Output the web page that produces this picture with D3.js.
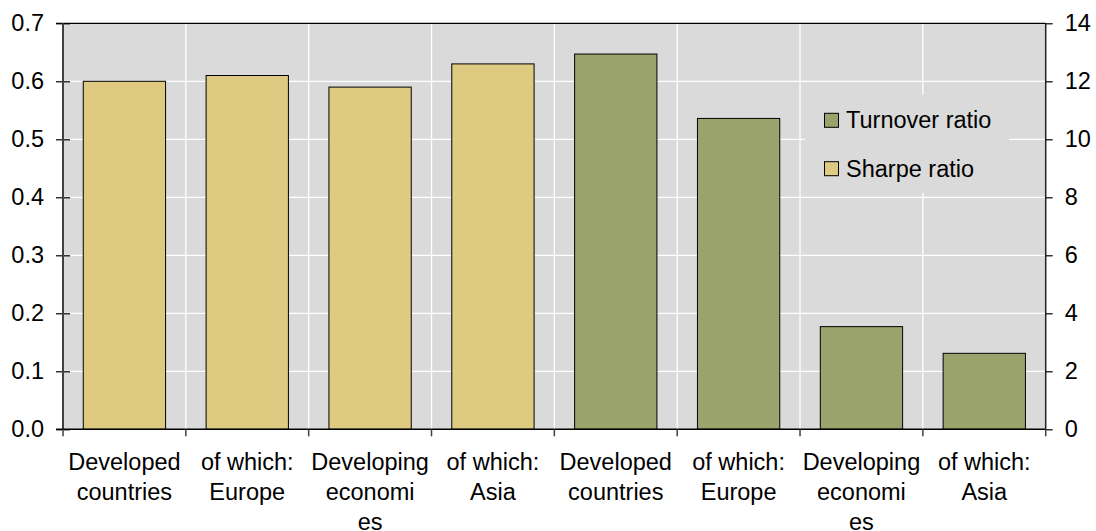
<!DOCTYPE html>
<html>
<head>
<meta charset="utf-8">
<script src="https://cdn.jsdelivr.net/npm/d3@7"></script>
<style>
  html, body { margin: 0; padding: 0; background: #ffffff; }
  svg { display: block; font-family: "Liberation Sans", Arial, sans-serif; }
</style>
</head>
<body>
<svg id="chart" width="1096" height="531"></svg>
<script>
// ---- data ----
const categories = [
  "Developed countries", "of which: Europe", "Developing economies", "of which: Asia",
  "Developed countries", "of which: Europe", "Developing economies", "of which: Asia"
];
const categoryLines = [
  ["Developed", "countries"], ["of which:", "Europe"], ["Developing", "economi", "es"], ["of which:", "Asia"],
  ["Developed", "countries"], ["of which:", "Europe"], ["Developing", "economi", "es"], ["of which:", "Asia"]
];
const sharpeRatio   = [0.60, 0.61, 0.59, 0.63, null, null, null, null];
const turnoverRatio = [null, null, null, null, 12.94, 10.72, 3.54, 2.62];
const leftTicks  = [0, 0.1, 0.2, 0.3, 0.4, 0.5, 0.6, 0.7];
const rightTicks = [0, 2, 4, 6, 8, 10, 12, 14];
const legendItems = ["Turnover ratio", "Sharpe ratio"];

// ---- layout ----
const svg = d3.select("#chart");
const L = 63, R = 1045.7, T = 23.3, B = 429.3;
const FS = 23.5;
const colSharpe = "#dfca82", colTurn = "#9aa36b", bg = "#dadada";

const x = d3.scaleBand().domain(d3.range(categories.length)).range([L, R]).padding(0);
const yL = d3.scaleLinear().domain([0, 0.7]).range([B, T]);
const yR = d3.scaleLinear().domain([0, 14]).range([B, T]);
const barW = x.bandwidth() * 0.67;

// plot background
svg.append("rect").attr("x", L).attr("y", T).attr("width", R - L).attr("height", B - T).attr("fill", bg);

// gridlines
svg.append("g").selectAll("line").data(leftTicks.slice(1)).join("line")
  .attr("x1", L).attr("x2", R).attr("y1", d => yL(d)).attr("y2", d => yL(d))
  .attr("stroke", "#ffffff").attr("stroke-width", 1.3);
svg.append("g").selectAll("line").data(d3.range(1, categories.length)).join("line")
  .attr("x1", d => x(d)).attr("x2", d => x(d)).attr("y1", T).attr("y2", B)
  .attr("stroke", "#ffffff").attr("stroke-width", 1.3);

// bars
svg.append("g").selectAll("rect").data(sharpeRatio.map((v, i) => ({v, i})).filter(d => d.v != null)).join("rect")
  .attr("x", d => x(d.i) + (x.bandwidth() - barW) / 2)
  .attr("y", d => yL(d.v)).attr("width", barW).attr("height", d => B - yL(d.v))
  .attr("fill", colSharpe).attr("stroke", "#000").attr("stroke-width", 1);
svg.append("g").selectAll("rect").data(turnoverRatio.map((v, i) => ({v, i})).filter(d => d.v != null)).join("rect")
  .attr("x", d => x(d.i) + (x.bandwidth() - barW) / 2)
  .attr("y", d => yR(d.v)).attr("width", barW).attr("height", d => B - yR(d.v))
  .attr("fill", colTurn).attr("stroke", "#000").attr("stroke-width", 1);

// legend
const lg = svg.append("g");
lg.append("rect").attr("x", 805).attr("y", 95).attr("width", 204).attr("height", 98).attr("fill", bg);
const legendColors = [colTurn, colSharpe];
legendItems.forEach((name, k) => {
  const yb = 128.3 + k * 48.4;
  lg.append("rect").attr("x", 824.5).attr("y", yb - 15).attr("width", 14).attr("height", 14)
    .attr("fill", legendColors[k]).attr("stroke", "#000").attr("stroke-width", 1);
  lg.append("text").attr("x", 846).attr("y", yb).attr("font-size", FS).attr("fill", "#000").text(name);
});

// frame: top & right border
svg.append("line").attr("x1", 56).attr("x2", R).attr("y1", T).attr("y2", T).attr("stroke", "#000").attr("stroke-width", 1.3);
svg.append("line").attr("x1", R).attr("x2", R).attr("y1", T).attr("y2", B).attr("stroke", "#222").attr("stroke-width", 1.5);

// left axis
const axL = svg.append("g").attr("transform", `translate(${L + 7},0)`)
  .call(d3.axisLeft(yL).tickValues(leftTicks).tickSize(14).tickPadding(12).tickFormat(d3.format(".1f")));
axL.select(".domain").remove();
axL.selectAll("line").attr("stroke", "#000").attr("stroke-width", 1.2);
axL.selectAll("text").attr("font-size", FS).attr("fill", "#000").attr("font-family", "Liberation Sans, Arial, sans-serif");
svg.append("line").attr("x1", L).attr("x2", L).attr("y1", T).attr("y2", B).attr("stroke", "#404040").attr("stroke-width", 2);

// right axis
const axR = svg.append("g").attr("transform", `translate(${R},0)`)
  .call(d3.axisRight(yR).tickValues(rightTicks).tickSize(7).tickPadding(12).tickFormat(d3.format("d")));
axR.select(".domain").remove();
axR.selectAll("line").attr("stroke", "#000").attr("stroke-width", 1.2);
axR.selectAll("text").attr("font-size", FS).attr("fill", "#000").attr("font-family", "Liberation Sans, Arial, sans-serif");

// bottom axis
const axB = svg.append("g").attr("transform", `translate(0,${B})`)
  .call(d3.axisBottom(x).tickSize(0).tickFormat(""));
axB.select(".domain").attr("d", `M56,0H${R}`).attr("stroke", "#000").attr("stroke-width", 1.5);
svg.append("g").selectAll("line").data(d3.range(0, categories.length + 1)).join("line")
  .attr("x1", d => d < categories.length ? x(d) : R).attr("x2", d => d < categories.length ? x(d) : R)
  .attr("y1", B).attr("y2", B + 7).attr("stroke", "#404040").attr("stroke-width", 1.5);

// category labels
const lab = svg.append("g").selectAll("text").data(categoryLines).join("text")
  .attr("font-size", FS).attr("fill", "#000").attr("text-anchor", "middle");
lab.each(function(lines, i) {
  const t = d3.select(this);
  lines.forEach((ln, j) => {
    t.append("tspan").attr("x", x(i) + x.bandwidth() / 2).attr("y", 469.5 + j * 30.2).text(ln);
  });
});
</script>
</body>
</html>
